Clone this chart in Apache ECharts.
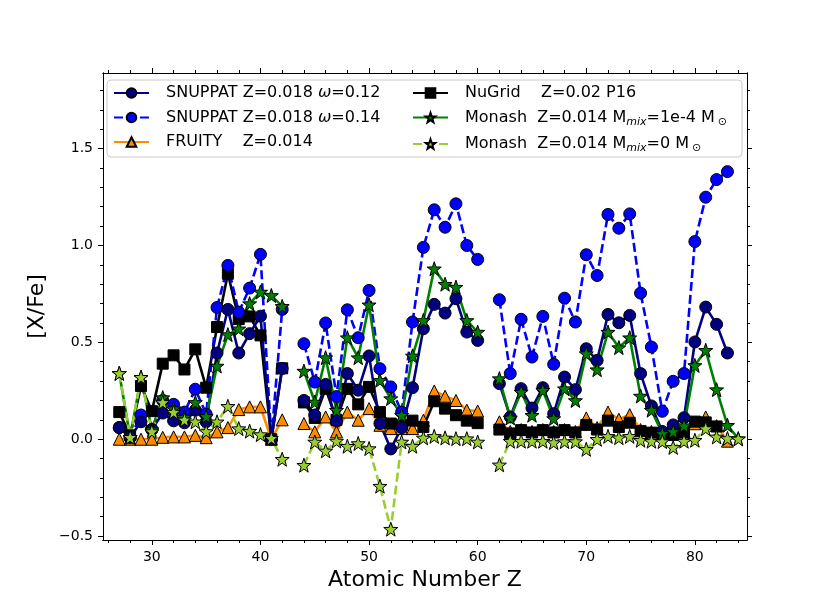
<!DOCTYPE html>
<html>
<head>
<meta charset="utf-8">
<script src="https://cdn.jsdelivr.net/npm/echarts@6/dist/echarts.min.js"></script>
<style>
  html, body { margin: 0; padding: 0; background: #fff; }
  #chart { width: 831px; height: 606px; }
</style>
</head>
<body>
<div id="chart"></div>
<script>
// atomic number Z, one entry per element (43 Tc and 61 Pm have no value)
var zList = [27, 28, 29, 30, 31, 32, 33, 34, 35, 36,
             37, 38, 39, 40, 41, 42, 43, 44, 45, 46,
             47, 48, 49, 50, 51, 52, 53, 54, 55, 56,
             57, 58, 59, 60, 61, 62, 63, 64, 65, 66,
             67, 68, 69, 70, 71, 72, 73, 74, 75, 76,
             77, 78, 79, 80, 81, 82, 83, 84];

var snup12 = [0.06, 0.01, 0.09, 0.05, 0.135, 0.095, 0.085, 0.15, 0.09, 0.445,
              0.67, 0.445, 0.545, 0.635, 0.0, 0.365, null, 0.2, 0.125, 0.283,
              0.094, 0.339, 0.253, 0.43, 0.081, -0.05, 0.06, 0.266, 0.57, 0.696,
              0.651, 0.725, 0.553, 0.51, null, 0.287, 0.115, 0.261, 0.161, 0.266,
              0.132, 0.321, 0.256, 0.467, 0.407, 0.644, 0.601, 0.639, 0.339, 0.172,
              0.04, 0.074, 0.111, 0.502, 0.682, 0.593, 0.445, null];

var snup14 = [0.06, 0.01, 0.125, 0.05, 0.2, 0.18, 0.14, 0.258, 0.13, 0.68,
              0.897, 0.656, 0.78, 0.954, 0.0, 0.67, null, 0.493, 0.295, 0.6,
              0.22, 0.668, 0.524, 0.768, 0.364, 0.27, 0.14, 0.605, 0.99, 1.184,
              1.094, 1.215, 1.0, 0.928, null, 0.72, 0.339, 0.619, 0.424, 0.634,
              0.387, 0.728, 0.605, 0.952, 0.845, 1.16, 1.089, 1.163, 0.754, 0.476,
              0.144, 0.299, 0.339, 1.02, 1.249, 1.34, 1.381, null];

var fruity = [0.0, 0.0, 0.0, 0.0, 0.01, 0.012, 0.012, 0.02, 0.008, 0.038,
              0.06, 0.153, 0.167, 0.167, 0.0, 0.1, null, 0.081, 0.038, 0.115,
              0.038, 0.14, 0.098, 0.158, 0.072, 0.055, 0.055, 0.055, 0.098, 0.249,
              0.222, 0.2, 0.15, 0.146, null, 0.09, 0.04, 0.05, 0.04, 0.05,
              0.04, 0.05, 0.04, 0.11, 0.06, 0.14, 0.103, 0.127, 0.05, 0.04,
              0.04, 0.035, 0.04, 0.08, 0.115, 0.07, -0.01, null];

var nugrid = [0.14, 0.02, 0.275, 0.145, 0.39, 0.433, 0.36, 0.464, 0.266, 0.579,
              0.854, 0.62, 0.634, 0.536, 0.0, 0.366, null, 0.19, 0.11, 0.26,
              0.1, 0.26, 0.18, 0.27, 0.14, 0.081, 0.072, 0.096, 0.063, 0.196,
              0.158, 0.124, 0.096, 0.083, null, 0.05, 0.03, 0.047, 0.035, 0.047,
              0.035, 0.047, 0.035, 0.074, 0.05, 0.096, 0.063, 0.085, 0.042, 0.034,
              0.032, 0.022, 0.034, 0.091, 0.087, 0.066, null, null];

var monash4 = [0.34, 0.01, 0.32, 0.05, 0.215, 0.158, 0.115, 0.19, 0.118, 0.378,
               0.54, 0.57, 0.7, 0.76, 0.742, 0.686, null, 0.352, 0.192, 0.421,
               0.15, 0.524, 0.421, 0.694, 0.304, 0.21, 0.124, 0.43, 0.613, 0.88,
               0.8, 0.785, 0.613, 0.553, null, 0.313, 0.11, 0.244, 0.124, 0.253,
               0.107, 0.261, 0.2, 0.442, 0.359, 0.553, 0.473, 0.524, 0.223, 0.15,
               0.03, 0.04, 0.07, 0.381, 0.459, 0.256, 0.072, 0.003];

var monash0 = [0.34, 0.01, 0.32, 0.04, 0.19, 0.14, 0.1, 0.09, 0.04, 0.09,
               0.17, 0.055, 0.042, 0.024, 0.005, -0.103, null, -0.134, -0.014, -0.06,
               -0.009, -0.036, -0.022, -0.048, -0.242, -0.464, -0.014, -0.036, 0.007, 0.015,
               0.007, 0.003, 0.003, -0.014, null, -0.132, -0.01, -0.01, -0.01, -0.01,
               -0.017, -0.012, -0.012, -0.052, 0.0, 0.015, 0.008, 0.015, -0.005, -0.01,
               -0.012, -0.042, -0.01, -0.005, 0.055, 0.012, 0.004, 0.002];

var xTicks = [30, 40, 50, 60, 70, 80];
var yTicks = [-0.5, 0.0, 0.5, 1.0, 1.5];

var names = {
    snup12: 'SNUPPAT Z=0.018 ω=0.12',
    snup14: 'SNUPPAT Z=0.018 ω=0.14',
    fruity: 'FRUITY    Z=0.014',
    nugrid: 'NuGrid    Z=0.02 P16',
    monash4: 'Monash  Z=0.014 Mmix=1e-4 M⊙',
    monash0: 'Monash  Z=0.014 Mmix=0 M⊙'
};

// legend text with italic omega and subscripts
var legendText = {};
legendText[names.snup12] = '{t|SNUPPAT Z=0.018 }{i|ω}{t|=0.12}';
legendText[names.snup14] = '{t|SNUPPAT Z=0.018 }{i|ω}{t|=0.14}';
legendText[names.fruity] = '{t|FRUITY    Z=0.014}';
legendText[names.nugrid] = '{t|NuGrid    Z=0.02 P16}';
legendText[names.monash4] = '{t|Monash  Z=0.014 M}{s|mix}{t|=1e-4 M}{o|⊙}';
legendText[names.monash0] = '{t|Monash  Z=0.014 M}{s|mix}{t|=0 M}{o|⊙}';

var font = 'DejaVu Sans';
var starPath = 'path://M50,2 L61.8,35.6 L97.6,36.5 L69.1,58.2 L79.4,92.4 L50,72 L20.6,92.4 L30.9,58.2 L2.4,36.5 L38.2,35.6 Z';

// minor tick positions
var xMinor = [];
for (var i = 26; i <= 84; i += 2) {
    if (xTicks.indexOf(i) < 0) xMinor.push(i);
}
var yMinor = [];
for (var k = -5; k <= 18; k++) {
    if (k % 5 != 0) yMinor.push(k / 10);
}

function toPairs(vals) {
    return zList.map(function (z, i) {
        return [z, vals[i] === null ? '-' : vals[i]];
    });
}

function makeSeries(name, vals, lineColor, face, symbol, size, dashed) {
    return {
        name: name,
        type: 'line',
        data: toPairs(vals),
        symbol: symbol,
        symbolSize: size,
        showSymbol: true,
        showAllSymbol: true,
        connectNulls: false,
        color: lineColor,
        lineStyle: {
            color: lineColor,
            width: 2.6,
            type: dashed ? [9, 4] : 'solid'
        },
        itemStyle: {
            color: face,
            borderColor: '#000',
            borderWidth: 1
        },
        emphasis: { disabled: true }
    };
}

var xMin = 25.5, xMax = 84.8;
var yMin = -0.52, yMax = 1.89;

function xAxisOf(pos, ticks, len, withLabel) {
    return {
        type: 'value',
        position: pos,
        min: xMin,
        max: xMax,
        axisLine: { show: true, onZero: false, lineStyle: { color: '#000', width: 1 } },
        axisTick: { show: true, inside: false, length: len, customValues: ticks,
                    lineStyle: { color: '#000', width: 1 } },
        axisLabel: withLabel ? {
            show: true, customValues: ticks, margin: 10,
            color: '#000', fontSize: 14, fontFamily: font
        } : { show: false },
        splitLine: { show: false }
    };
}

function yAxisOf(pos, ticks, len, withLabel) {
    return {
        type: 'value',
        position: pos,
        min: yMin,
        max: yMax,
        axisLine: { show: true, onZero: false, lineStyle: { color: '#000', width: 1 } },
        axisTick: { show: true, inside: false, length: len, customValues: ticks,
                    lineStyle: { color: '#000', width: 1 } },
        axisLabel: withLabel ? {
            show: true, customValues: ticks, margin: 10,
            color: '#000', fontSize: 14, fontFamily: font,
            formatter: function (v) {
                return v < 0 ? '\u2212' + Math.abs(v).toFixed(1) : v.toFixed(1);
            }
        } : { show: false },
        splitLine: { show: false }
    };
}

var xMain = xAxisOf('bottom', xTicks, 5, true);
xMain.name = 'Atomic Number Z';
xMain.nameLocation = 'middle';
xMain.nameGap = 27;
xMain.nameTextStyle = { color: '#000', fontSize: 22, fontFamily: font };

var yMain = yAxisOf('left', yTicks, 5, true);
yMain.name = '[X/Fe]';
yMain.nameLocation = 'middle';
yMain.nameGap = 45;
yMain.nameTextStyle = { color: '#000', fontSize: 22, fontFamily: font };

var rich = {
    t: { fontSize: 16, lineHeight: 20, color: '#000', fontFamily: font },
    i: { fontSize: 16, lineHeight: 20, color: '#000', fontFamily: font, fontStyle: 'italic' },
    s: { fontSize: 11, lineHeight: 10, color: '#000', fontFamily: font, fontStyle: 'italic', verticalAlign: 'bottom' },
    o: { fontSize: 11, lineHeight: 10, color: '#000', fontFamily: font, verticalAlign: 'bottom', padding: [0, 0, 0, 3] }
};

function legendOf(left, list) {
    return {
        show: true,
        orient: 'vertical',
        left: left,
        top: 85,
        padding: 0,
        itemGap: 8.5,
        itemWidth: 35,
        itemHeight: 12,
        selectedMode: false,
        data: list,
        formatter: function (n) { return legendText[n]; },
        textStyle: { fontSize: 16, fontFamily: font, color: '#000', padding: [0, 0, 0, 12], rich: rich }
    };
}

var option = {
    animation: false,
    backgroundColor: '#fff',
    grid: { left: 103, right: 84, top: 73, bottom: 66 },
    xAxis: [
        xMain,
        xAxisOf('bottom', xMinor, 3, false),
        xAxisOf('top', xTicks, 5, false),
        xAxisOf('top', xMinor, 3, false)
    ],
    yAxis: [
        yMain,
        yAxisOf('left', yMinor, 3, false),
        yAxisOf('right', yTicks, 5, false),
        yAxisOf('right', yMinor, 3, false)
    ],
    graphic: [{
        type: 'rect',
        z: 3,
        shape: { x: 107, y: 80, width: 635, height: 77, r: 4 },
        style: { fill: 'rgba(255,255,255,0.8)', stroke: '#cccccc', lineWidth: 1 }
    }],
    legend: [
        legendOf(113, [names.snup12, names.snup14, names.fruity]),
        legendOf(412, [names.nugrid, names.monash4, names.monash0])
    ],
    series: [
        makeSeries(names.fruity, fruity, '#ff8c00', '#ff8c00', 'triangle', 12, false),
        makeSeries(names.nugrid, nugrid, '#000000', '#000000', 'rect', 11, false),
        makeSeries(names.snup14, snup14, '#0000ff', '#0000ff', 'circle', 12, true),
        makeSeries(names.snup12, snup12, '#000080', '#000080', 'circle', 12, false),
        makeSeries(names.monash4, monash4, '#008000', '#008000', starPath, 14, false),
        makeSeries(names.monash0, monash0, '#9acd32', '#9acd32', starPath, 14, true)
    ]
};

var myChart = echarts.init(document.getElementById('chart'));
myChart.setOption(option);
</script>
</body>
</html>
